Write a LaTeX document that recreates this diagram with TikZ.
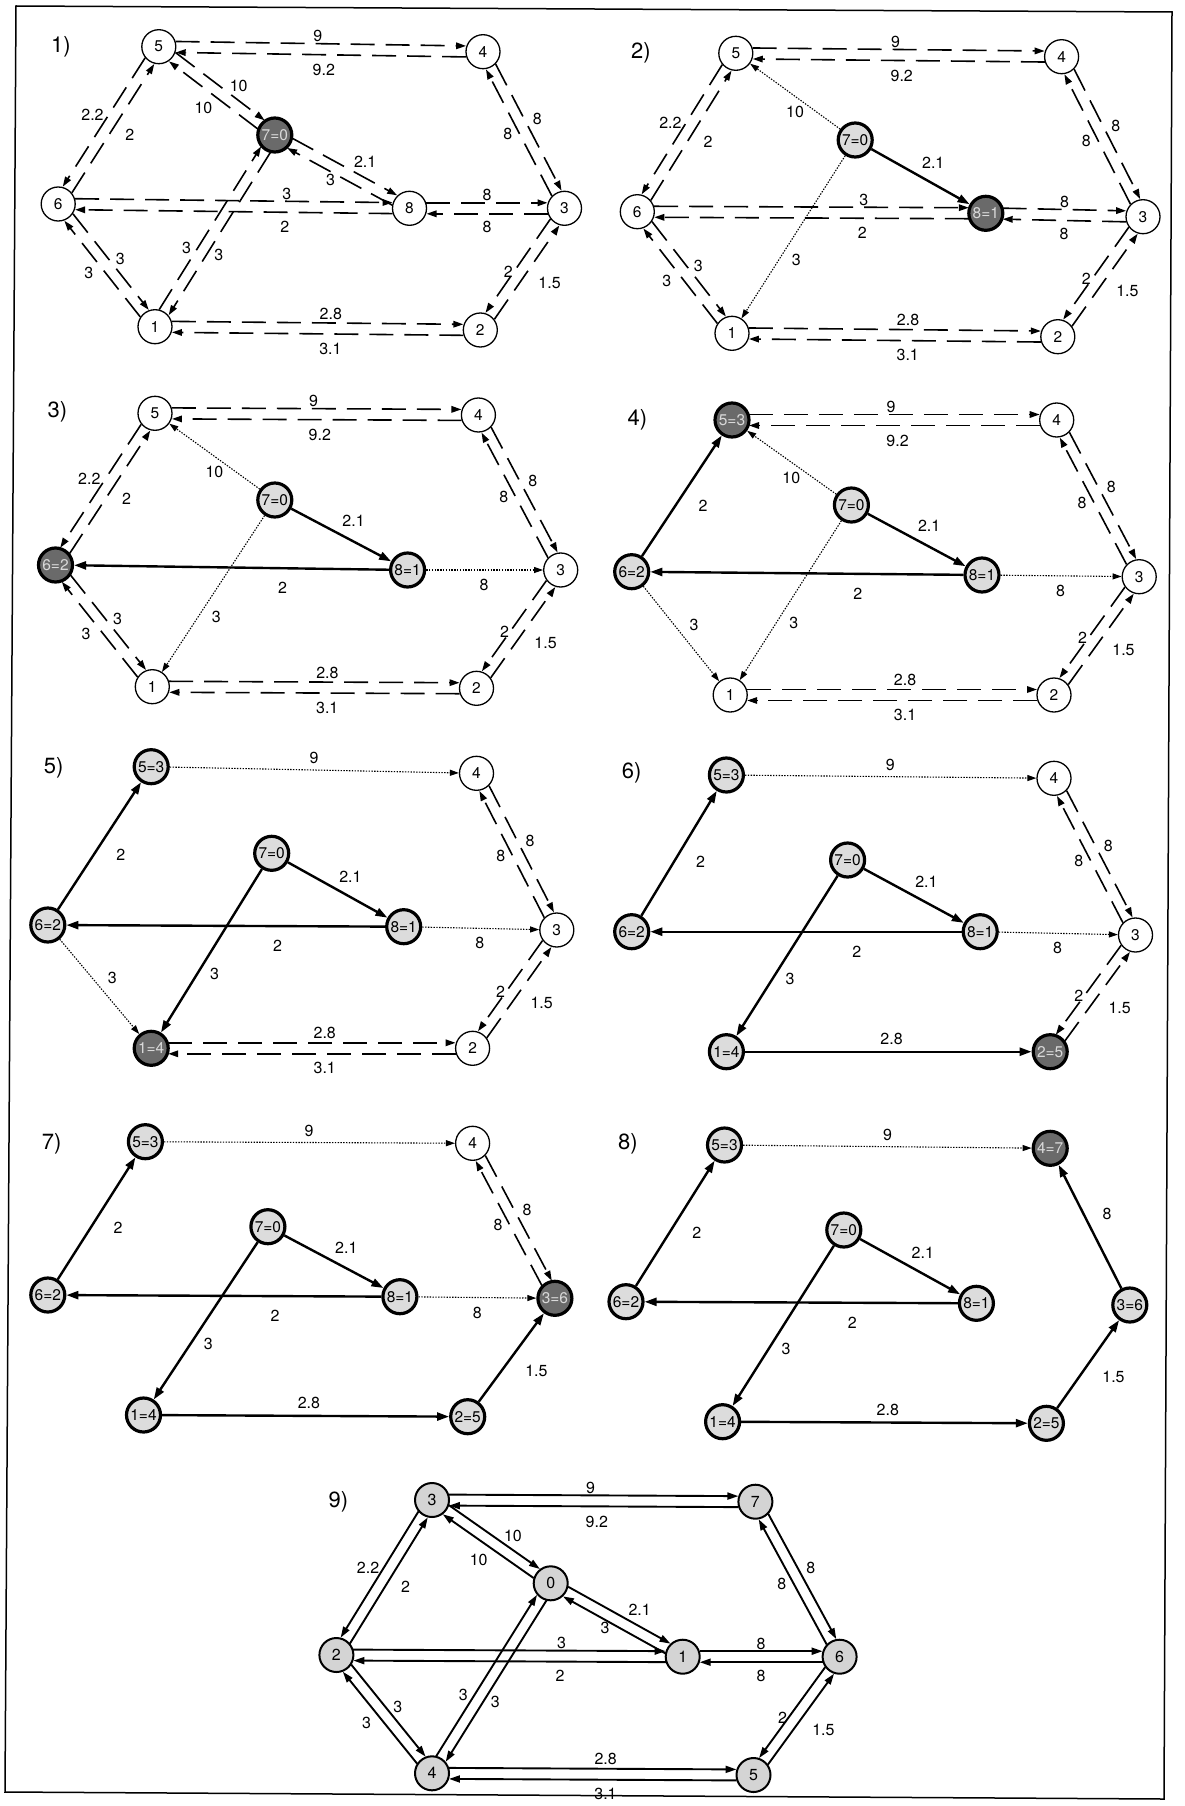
\documentclass[tikz,border=0pt]{standalone}
\usepackage{fontspec}
\setmainfont{TeX Gyre Heros}
\usetikzlibrary{calc,arrows.meta}
\definecolor{darkfill}{HTML}{6A6A6A}
\definecolor{lightfill}{HTML}{DCDCDC}
\definecolor{finfill}{HTML}{D4D4D4}
\newcommand\myN{\fontsize{15.5}{17}\selectfont}
\newcommand\myF{\fontsize{16}{18}\selectfont}
\newcommand\myL{\fontsize{16}{18}\selectfont}
\newcommand\myP{\fontsize{22}{26}\selectfont}
\tikzset{
  wn/.style={circle, draw, line width=1.3pt, fill=white, minimum size=34pt, inner sep=0pt, font=\myN},
  vn/.style={circle, draw, line width=3.2pt, fill=lightfill, minimum size=34pt, inner sep=0pt, font=\myN},
  cn/.style={circle, draw, line width=3.2pt, fill=darkfill, text=white!85!black, minimum size=34pt, inner sep=0pt, font=\myN},
  fn/.style={circle, draw, line width=2pt, fill=finfill, minimum size=34pt, inner sep=0pt, font=\myF},
  elab/.style={font=\myL, inner sep=0pt},
  plab/.style={font=\myP, inner sep=0pt},
  dashln/.style={line width=1.6pt, dash pattern=on 24pt off 11pt, -{Triangle[length=10pt,width=6.5pt]}, shorten <=16.8pt, shorten >=17pt},
  dblln/.style={line width=1.9pt, -{Triangle[length=11pt,width=7pt]}, shorten <=16.8pt, shorten >=17pt},
  treeln/.style={line width=2.4pt, -{Triangle[length=12pt,width=8pt]}},
  candln/.style={line width=1.1pt, dash pattern=on 1.4pt off 1.4pt, -{Triangle[length=9pt,width=6pt]}},
}
\newcommand\lab[5]{\node[elab] at ($(#1.center)!#3!(#2.center)!#4pt!90:(#2.center)$) {#5};}
\newcommand\pp[4]{%
  \draw[#1] ($(#2.center)!#4pt!90:(#3.center)$) -- ($(#3.center)!#4pt!-90:(#2.center)$);
  \draw[#1] ($(#3.center)!#4pt!90:(#2.center)$) -- ($(#2.center)!#4pt!-90:(#3.center)$);}
\newcommand\PairA[2]{\pp{#2}{#15}{#14}{5.5}\lab{#15}{#14}{0.49}{13}{9}\lab{#14}{#15}{0.49}{21}{9.2}}
\newcommand\PairB[2]{\pp{#2}{#15}{#17}{5.5}\lab{#15}{#17}{0.6}{17}{10}\lab{#17}{#15}{0.5}{22}{10}}
\newcommand\PairC[2]{\pp{#2}{#15}{#16}{-5.5}\lab{#15}{#16}{0.5}{-19}{2.2}\lab{#16}{#15}{0.52}{-23}{2}}
\newcommand\PairD[2]{\pp{#2}{#16}{#18}{5.5}\lab{#16}{#18}{0.65}{13}{3}\lab{#18}{#16}{0.354}{20}{2}}
\newcommand\PairE[2]{\pp{#2}{#17}{#18}{5.5}\lab{#17}{#18}{0.6}{20}{2.1}\lab{#18}{#17}{0.54}{13}{3}}
\newcommand\PairF[2]{\pp{#2}{#18}{#13}{5.5}\lab{#18}{#13}{0.5}{13}{8}\lab{#13}{#18}{0.5}{19}{8}}
\newcommand\PairG[2]{\pp{#2}{#14}{#13}{5.5}\lab{#14}{#13}{0.48}{17}{8}\lab{#13}{#14}{0.52}{16}{8}}
\newcommand\PairH[2]{\pp{#2}{#16}{#11}{5.5}\lab{#16}{#11}{0.52}{15}{3}\lab{#11}{#16}{0.53}{19}{3}}
\newcommand\PairI[2]{\pp{#2}{#17}{#11}{5.5}\lab{#17}{#11}{0.58}{16}{3}\lab{#11}{#17}{0.37}{15}{3}}
\newcommand\PairJ[2]{\pp{#2}{#11}{#12}{5.5}\lab{#11}{#12}{0.54}{15}{2.8}\lab{#12}{#11}{0.46}{20}{3.1}}
\newcommand\PairK[2]{\pp{#2}{#12}{#13}{-5.5}\lab{#12}{#13}{0.53}{-30}{1.5}\lab{#13}{#12}{0.57}{-10}{2}}
\newcommand\Tr[6]{\draw[treeln] (#1#2) -- (#1#3); \lab{#1#2}{#1#3}{#4}{#5}{#6}}
\newcommand\Ca[6]{\draw[candln] (#1#2) -- (#1#3); \lab{#1#2}{#1#3}{#4}{#5}{#6}}
\begin{document}
\begin{tikzpicture}[x=1pt,y=-1pt]
\useasboundingbox (0,0) rectangle (1184,1806);
\draw[line width=1.5pt] (16,6) -- (1172,12) -- (1164,1799) -- (5,1792) -- cycle;

% ---------- panel 1
\node[plab] at (61,47) {1)};
\node[wn] (a5) at (158.8,46.7) {5};
\node[wn] (a4) at (483,51.7) {4};
\node[cn] (a7) at (274.8,135) {7=0};
\node[wn] (a6) at (58.2,204) {6};
\node[wn] (a8) at (409.5,208.3) {8};
\node[wn] (a3) at (564.5,208.3) {3};
\node[wn] (a1) at (155,326.7) {1};
\node[wn] (a2) at (480.3,330) {2};
\PairA{a}{dashln}\PairB{a}{dashln}\PairC{a}{dashln}\PairD{a}{dashln}
\PairE{a}{dashln}\PairF{a}{dashln}\PairG{a}{dashln}\PairH{a}{dashln}
\PairI{a}{dashln}\PairJ{a}{dashln}\PairK{a}{dashln}

% ---------- panel 2
\node[plab] at (641,53) {2)};
\node[wn] (b5) at (735.8,53.3) {5};
\node[wn] (b4) at (1061.6,56.7) {4};
\node[vn] (b7) at (855.2,140) {7=0};
\node[wn] (b6) at (637.3,211.7) {6};
\node[cn] (b8) at (985.8,213.3) {8=1};
\node[wn] (b3) at (1143,216.7) {3};
\node[wn] (b1) at (732,333.3) {1};
\node[wn] (b2) at (1057.8,336.7) {2};
\PairA{b}{dashln}\PairC{b}{dashln}\PairD{b}{dashln}\PairF{b}{dashln}
\PairG{b}{dashln}\PairH{b}{dashln}\PairJ{b}{dashln}\PairK{b}{dashln}
\Tr{b}{7}{8}{0.53}{18}{2.1}
\Ca{b}{7}{5}{0.44}{13}{10}
\Ca{b}{7}{1}{0.58}{15}{3}

% ---------- panel 3
\node[plab] at (57.4,411.7) {3)};
\node[wn] (c5) at (155,413.3) {5};
\node[wn] (c4) at (478.4,415) {4};
\node[vn] (c7) at (274.8,500) {7=0};
\node[cn] (c6) at (55.5,565) {6=2};
\node[vn] (c8) at (407.6,570) {8=1};
\node[wn] (c3) at (560.7,570) {3};
\node[wn] (c1) at (152.3,686.7) {1};
\node[wn] (c2) at (476.5,688.3) {2};
\PairA{c}{dashln}\PairC{c}{dashln}\PairG{c}{dashln}\PairH{c}{dashln}
\PairJ{c}{dashln}\PairK{c}{dashln}
\Tr{c}{7}{8}{0.53}{18}{2.1}
\Tr{c}{8}{6}{0.354}{20}{2}
\Ca{c}{7}{5}{0.44}{13}{10}
\Ca{c}{7}{1}{0.58}{15}{3}
\Ca{c}{8}{3}{0.5}{-15}{8}

% ---------- panel 4
\node[plab] at (637.3,420) {4)};
\node[cn] (d5) at (732,420) {5=3};
\node[wn] (d4) at (1056.7,420) {4};
\node[vn] (d7) at (851.4,505) {7=0};
\node[vn] (d6) at (631.7,571.7) {6=2};
\node[vn] (d8) at (982,575) {8=1};
\node[wn] (d3) at (1139.2,576.7) {3};
\node[wn] (d1) at (730.2,695) {1};
\node[wn] (d2) at (1054,695) {2};
\PairA{d}{dashln}\PairG{d}{dashln}\PairJ{d}{dashln}\PairK{d}{dashln}
\Tr{d}{7}{8}{0.53}{18}{2.1}
\Tr{d}{8}{6}{0.354}{20}{2}
\Tr{d}{6}{5}{0.52}{-23}{2}
\Ca{d}{7}{5}{0.44}{13}{10}
\Ca{d}{7}{1}{0.58}{15}{3}
\Ca{d}{8}{3}{0.5}{-15}{8}
\Ca{d}{6}{1}{0.51}{15.5}{3}

% ---------- panel 5
\node[plab] at (53.6,768.3) {5)};
\node[vn] (e5) at (151.2,766.7) {5=3};
\node[wn] (e4) at (476.5,773.3) {4};
\node[vn] (e7) at (271.7,853.3) {7=0};
\node[vn] (e6) at (47.8,925) {6=2};
\node[vn] (e8) at (403.7,926.7) {8=1};
\node[wn] (e3) at (556.8,930) {3};
\node[cn] (e1) at (151.2,1048.3) {1=4};
\node[wn] (e2) at (472.6,1048.3) {2};
\PairG{e}{dashln}\PairJ{e}{dashln}\PairK{e}{dashln}
\Tr{e}{7}{8}{0.53}{18}{2.1}
\Tr{e}{8}{6}{0.354}{20}{2}
\Tr{e}{6}{5}{0.52}{-23}{2}
\Tr{e}{7}{1}{0.58}{15}{3}
\Ca{e}{5}{4}{0.5}{12}{9}
\Ca{e}{8}{3}{0.5}{-15}{8}
\Ca{e}{6}{1}{0.51}{15.5}{3}

% ---------- panel 6
\node[plab] at (631.7,773.3) {6)};
\node[vn] (f5) at (726.4,775) {5=3};
\node[wn] (f4) at (1054,778.3) {4};
\node[vn] (f7) at (847.6,860) {7=0};
\node[vn] (f6) at (631.7,931.7) {6=2};
\node[vn] (f8) at (980.2,931.7) {8=1};
\node[wn] (f3) at (1135.5,935) {3};
\node[vn] (f1) at (726.4,1051.7) {1=4};
\node[cn] (f2) at (1050.2,1051.7) {2=5};
\PairG{f}{dashln}\PairK{f}{dashln}
\Tr{f}{7}{8}{0.53}{18}{2.1}
\Tr{f}{8}{6}{0.354}{20}{2}
\Tr{f}{6}{5}{0.52}{-23}{2}
\Tr{f}{7}{1}{0.58}{15}{3}
\Tr{f}{1}{2}{0.51}{12.5}{2.8}
\Ca{f}{5}{4}{0.5}{12}{9}
\Ca{f}{8}{3}{0.5}{-15}{8}

% ---------- panel 7
\node[plab] at (51.7,1143.3) {7)};
\node[vn] (g5) at (145.4,1141.7) {5=3};
\node[wn] (g4) at (472.6,1143.3) {4};
\node[vn] (g7) at (267.9,1226.7) {7=0};
\node[vn] (g6) at (47.8,1295) {6=2};
\node[vn] (g8) at (399.9,1296.7) {8=1};
\node[cn] (g3) at (554.9,1298.3) {3=6};
\node[vn] (g1) at (143.5,1415) {1=4};
\node[vn] (g2) at (467.7,1416.7) {2=5};
\PairG{g}{dashln}
\Tr{g}{7}{8}{0.53}{18}{2.1}
\Tr{g}{8}{6}{0.354}{20}{2}
\Tr{g}{6}{5}{0.52}{-23}{2}
\Tr{g}{7}{1}{0.58}{15}{3}
\Tr{g}{1}{2}{0.51}{12.5}{2.8}
\Tr{g}{2}{3}{0.53}{-28}{1.5}
\Ca{g}{5}{4}{0.5}{12}{9}
\Ca{g}{8}{3}{0.5}{-15}{8}

% ---------- panel 8
\node[plab] at (627.9,1143.3) {8)};
\node[vn] (h5) at (724.5,1145) {5=3};
\node[cn] (h4) at (1050.2,1148.3) {4=7};
\node[vn] (h7) at (843.8,1230) {7=0};
\node[vn] (h6) at (626,1301.7) {6=2};
\node[vn] (h8) at (976.4,1303.3) {8=1};
\node[vn] (h3) at (1129.8,1305) {3=6};
\node[vn] (h1) at (722.6,1421.7) {1=4};
\node[vn] (h2) at (1046.4,1423.3) {2=5};
\Tr{h}{7}{8}{0.53}{18}{2.1}
\Tr{h}{8}{6}{0.354}{20}{2}
\Tr{h}{6}{5}{0.52}{-23}{2}
\Tr{h}{7}{1}{0.58}{15}{3}
\Tr{h}{1}{2}{0.51}{12.5}{2.8}
\Tr{h}{2}{3}{0.53}{-28}{1.5}
\Tr{h}{3}{4}{0.52}{-21}{8}
\Ca{h}{5}{4}{0.5}{12}{9}

% ---------- panel 9
\node[plab] at (338.3,1501.7) {9)};
\node[fn] (i5) at (432,1500) {3};
\node[fn] (i4) at (755.4,1501.7) {7};
\node[fn] (i7) at (550.7,1583.3) {0};
\node[fn] (i6) at (336.4,1655) {2};
\node[fn] (i8) at (682.7,1656.7) {1};
\node[fn] (i3) at (839.6,1656.7) {6};
\node[fn] (i1) at (432,1773.3) {4};
\node[fn] (i2) at (753.5,1775) {5};
\PairA{i}{dblln}\PairB{i}{dblln}\PairC{i}{dblln}\PairD{i}{dblln}
\PairE{i}{dblln}\PairF{i}{dblln}\PairG{i}{dblln}\PairH{i}{dblln}
\PairI{i}{dblln}\PairJ{i}{dblln}\PairK{i}{dblln}
\end{tikzpicture}
\end{document}
